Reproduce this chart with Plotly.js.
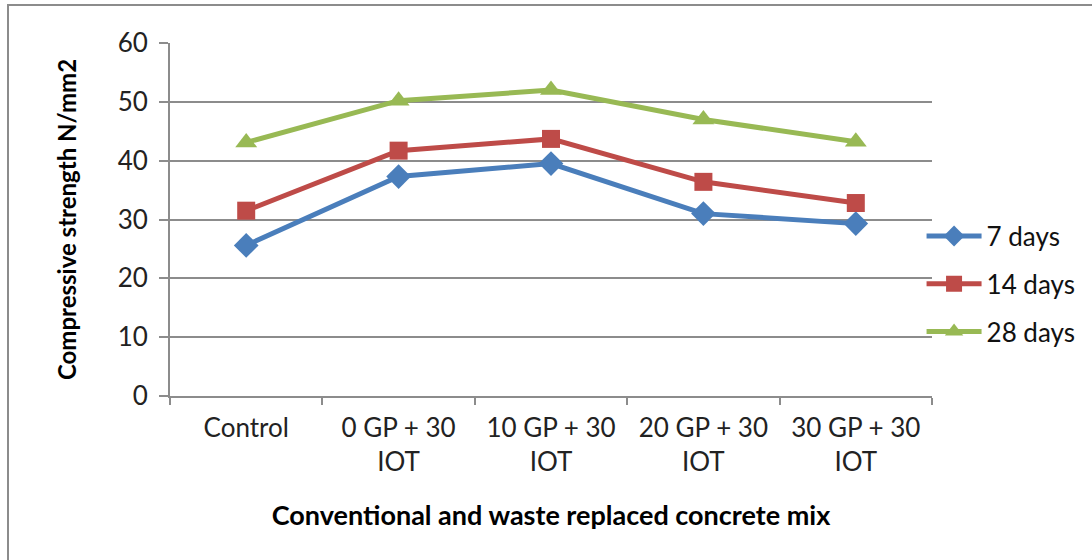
<!DOCTYPE html>
<html>
<head>
<meta charset="utf-8">
<script src="https://cdn.plot.ly/plotly-3.0.1.min.js"></script>
<style>
html,body{margin:0;padding:0;background:#fff;overflow:hidden;}
#frame{position:absolute;left:7px;top:4px;width:1100px;height:600px;border:2px solid #8c8c8c;box-sizing:border-box;}
#chart{position:absolute;left:0;top:0;width:1092px;height:560px;}
</style>
</head>
<body>
<div id="frame"></div>
<div id="chart"></div>
<script>
const categories = ["Control", "0 GP + 30<br>IOT", "10 GP + 30<br>IOT", "20 GP + 30<br>IOT", "30 GP + 30<br>IOT"];
const seriesNames = ["7 days", "14 days", "28 days"];
const days7 = [25.6, 37.3, 39.5, 31.0, 29.3];
const days14 = [31.5, 41.7, 43.7, 36.4, 32.8];
const days28 = [43.1, 50.2, 52.0, 47.0, 43.2];
const yTicks = [0, 10, 20, 30, 40, 50, 60];

const colors = ["#4A7EBB", "#BE4B48", "#98B954"];
const symbols = ["diamond", "square", "triangle-up"];
const sizes = [19, 18, 19];
const values = [days7, days14, days28];

const font = "Lato, 'Open Sans', sans-serif";

const traces = values.map((v, i) => ({
  type: "scatter",
  mode: "lines+markers",
  x: categories,
  y: v,
  name: seriesNames[i],
  legendgroup: "g" + i,
  line: {color: colors[i], width: 5},
  marker: {color: colors[i], symbol: symbols[i], size: sizes[i], line: {width: 0}}
}));

const layout = {
  width: 1092, height: 560,
  paper_bgcolor: "rgba(0,0,0,0)",
  plot_bgcolor: "rgba(0,0,0,0)",
  margin: {l: 170, r: 159, t: 43, b: 164},
  font: {family: font, size: 26, color: "#222"},
  showlegend: true,
  legend: {
    x: 0.985, xanchor: "left", y: 0.317, yanchor: "middle",
    font: {family: font, size: 26, color: "#111"},
    bgcolor: "rgba(0,0,0,0)",
    traceorder: "grouped",
    tracegroupgap: 11,
    itemwidth: 55
  },
  xaxis: {
    type: "category",
    tickson: "boundaries",
    ticks: "outside", ticklen: 7, tickcolor: "#8c8c8c", tickwidth: 2,
    showline: true, linecolor: "#8c8c8c", linewidth: 2,
    showgrid: false,
    ticklabelstandoff: 8,
    tickfont: {family: font, size: 26, color: "#222"},
    title: {text: "<b>Conventional and waste replaced concrete mix</b>", font: {family: font, size: 27, color: "#000"}, standoff: 30},
    range: [-0.5, 4.5]
  },
  yaxis: {
    range: [0, 60],
    tickvals: yTicks,
    ticks: "outside", ticklen: 9, tickcolor: "#8c8c8c", tickwidth: 2,
    showline: true, linecolor: "#8c8c8c", linewidth: 2,
    showgrid: true, gridcolor: "#8c8c8c", gridwidth: 2,
    zeroline: false,
    ticklabelstandoff: 6,
    tickfont: {family: font, size: 26, color: "#222"},
    title: {text: "<b>Compressive strength N/mm2</b>", font: {family: font, size: 24, color: "#000"}, standoff: 34}
  }
};

Plotly.newPlot("chart", traces, layout, {displayModeBar: false, staticPlot: true});
</script>
</body>
</html>
